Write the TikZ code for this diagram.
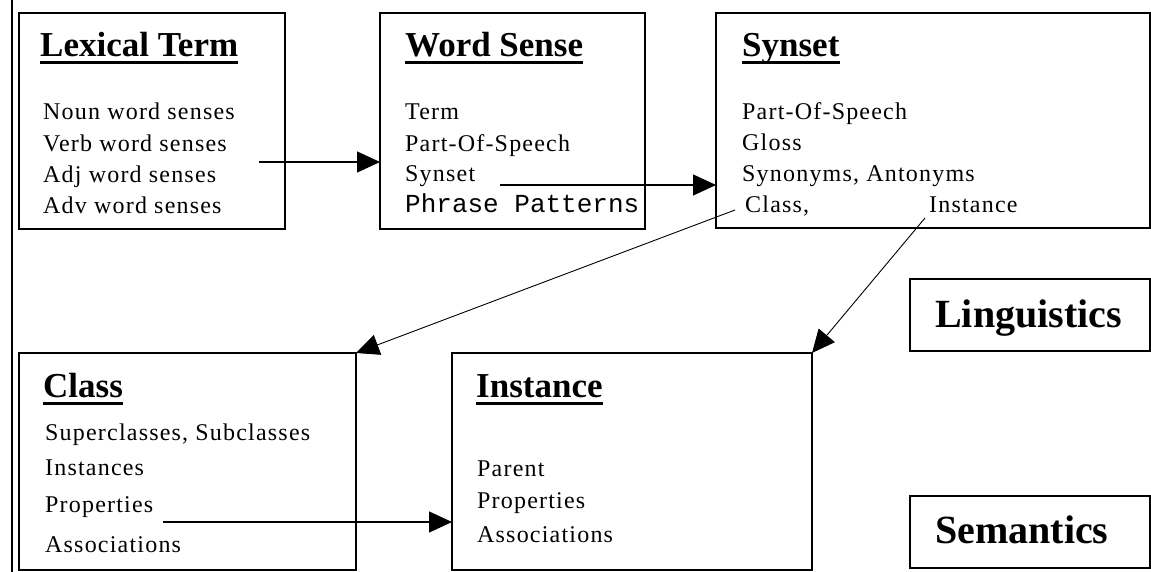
\documentclass[tikz,border=0pt]{standalone}
\usepackage{fontspec}
\setmainfont{Liberation Serif}
\setmonofont{Liberation Mono}
\newfontfamily\bodyfont[LetterSpace=5]{Liberation Serif}
\usetikzlibrary{arrows.meta}
\colorlet{fg}{black}
\colorlet{bg}{white}

\begin{document}
\begin{tikzpicture}[x=1pt,y=-1pt,
	box/.style={draw=fg,line width=1.6pt,anchor=north west,inner sep=0pt,outer sep=0pt},
	head/.style={anchor=base west,inner sep=0pt,font=\fontsize{35}{40}\selectfont\bfseries},
	item/.style={anchor=base west,inner sep=0pt,font=\fontsize{24}{28}\bodyfont},
	tag/.style={anchor=base west,inner sep=0pt,font=\fontsize{40}{46}\selectfont\bfseries},
	link/.style={draw=fg,line width=1.3pt,-{Triangle[length=23pt,width=21pt]}},
	thin/.style={line width=0.9pt}]
	    \useasboundingbox[fill=bg] (0,0) rectangle (1151,572);
	    \draw[fg,line width=2pt] (11.5,0) -- (11.5,572);
	    \node[box,minimum width=266pt,minimum height=216pt] (lexbox) at (19,13) {};
	    \node[box,minimum width=265pt,minimum height=216pt] (sensebox) at (380,13) {};
	    \node[box,minimum width=434pt,minimum height=215pt] (synbox) at (716,13) {};
	    \node[box,minimum width=337pt,minimum height=217pt] (classbox) at (19,353) {};
	    \node[box,minimum width=360pt,minimum height=217pt] (instbox) at (452,353) {};
	    \node[box,minimum width=240pt,minimum height=72pt] (lingbox) at (910,279) {};
	    \node[box,minimum width=240pt,minimum height=72pt] (sembox) at (910,496) {};
	    \node[head] (lexhead) at (40,57) {Lexical Term};
	    \node[head] (sensehead) at (405,57) {Word Sense};
	    \node[head] (synhead) at (742,57) {Synset};
	    \node[head] (classhead) at (43,397) {Class};
	    \node[head] (insthead) at (476,397) {Instance};
	    \foreach \t in {lexhead,sensehead,synhead,classhead,insthead}
	        \draw[fg,line width=3pt] ([yshift=-6pt]\t.base west) -- ([yshift=-6pt]\t.base east);
	    \node[item] (lex1) at (43,120) {Noun word senses};
	    \node[item] (lex2) at (43,152) {Verb word senses};
	    \node[item] (lex3) at (43,183) {Adj word senses};
	    \node[item] (lex4) at (43,214) {Adv word senses};
	    \node[item] (sense1) at (405,120) {Term};
	    \node[item] (sense2) at (405,152) {Part-Of-Speech};
	    \node[item] (sense3) at (405,182) {Synset};
	    \node[anchor=base west,inner sep=0pt,font=\fontsize{26}{30}\ttfamily] (sense4) at (405,213) {Phrase Patterns};
	    \node[item] (syn1) at (742,120) {Part-Of-Speech};
	    \node[item] (syn2) at (742,151) {Gloss};
	    \node[item] (syn3) at (742,182) {Synonyms, Antonyms};
	    \node[item] (syn4) at (745,213) {Class,};
	    \node[item] (syn5) at (929,213) {Instance};
	    \node[item] (class1) at (45,440) {Superclasses, Subclasses};
	    \node[item] (class2) at (45,475) {Instances};
	    \node[item] (class3) at (45,512) {Properties};
	    \node[item] (class4) at (45,552) {Associations};
	    \node[item] (inst1) at (477,476) {Parent};
	    \node[item] (inst2) at (477,508) {Properties};
	    \node[item] (inst3) at (477,542) {Associations};
	    \node[tag] (ling) at (935,327) {Linguistics};
	    \node[tag] (sem) at (935,543) {Semantics};
	    \coordinate (lexout) at (259,162);
	    \coordinate (senseout) at (500,185);
	    \coordinate (classout) at (735,210);
	    \coordinate (instout) at (925,218);
	    \coordinate (propout) at (163,522);
	    \draw[link] (lexout) -- (lexout -| sensebox.west);
	    \draw[link] (senseout) -- (senseout -| synbox.west);
	    \draw[link,thin] (classout) -- (classbox.north east);
	    \draw[link,thin] (instout) -- (instbox.north east);
	    \draw[link] (propout) -- (propout -| instbox.west);
        \end{tikzpicture}
\end{document}
